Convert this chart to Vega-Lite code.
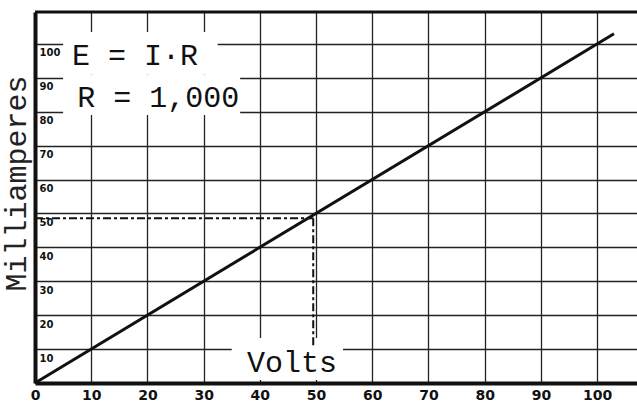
{
  "$schema": "https://vega.github.io/schema/vega-lite/v6.json",
  "width": 602,
  "height": 371,
  "autosize": "none",
  "padding": {"left": 35, "top": 12, "right": 0, "bottom": 20},
  "background": "white",
  "config": {"view": {"stroke": null}},
  "datasets": {
    "ohm": [
      {"volts": 0, "milliamperes": 0},
      {"volts": 103, "milliamperes": 103}
    ],
    "guide": [
      {"seg": "h", "volts": 0, "milliamperes": 48.6},
      {"seg": "h", "volts": 49.5, "milliamperes": 48.6},
      {"seg": "v", "volts": 49.5, "milliamperes": 48.6},
      {"seg": "v", "volts": 49.5, "milliamperes": 10.5}
    ],
    "notes": [
      {"note": "E = I·R", "volts": 6.6, "milliamperes": 93.8},
      {"note": "R = 1,000", "volts": 7.5, "milliamperes": 81.4},
      {"note": "Volts", "volts": 37.7, "milliamperes": 3.2}
    ],
    "boxes": [
      {"x1": 5, "x2": 32.5, "y1": 91, "y2": 103.5},
      {"x1": 5, "x2": 36.5, "y1": 79, "y2": 91},
      {"x1": 35, "x2": 54.8, "y1": 0.9, "y2": 13.3}
    ],
    "frame": [{"milliamperes": 109.4}]
  },
  "layer": [
    {
      "data": {"name": "boxes"},
      "mark": {"type": "rect", "fill": "white"},
      "encoding": {
        "x": {
          "field": "x1", "type": "quantitative",
          "scale": {"domain": [0, 107.1], "nice": false},
          "axis": {
            "values": [0, 10, 20, 30, 40, 50, 60, 70, 80, 90, 100],
            "grid": true, "gridColor": "#222", "gridWidth": 1.3,
            "domain": true, "domainColor": "#111", "domainWidth": 4,
            "ticks": false, "tickSize": 0,
            "labelPadding": 5, "labelFlush": false, "labelAngle": 0,
            "labelFont": "DejaVu Sans", "labelFontWeight": "bold", "labelFontSize": 14, "labelColor": "#111",
            "title": null
          }
        },
        "x2": {"field": "x2"},
        "y": {
          "field": "y1", "type": "quantitative",
          "scale": {"domain": [0, 109.4], "nice": false},
          "axis": {
            "values": [10, 20, 30, 40, 50, 60, 70, 80, 90, 100],
            "grid": true, "gridColor": "#222", "gridWidth": 1.3,
            "domain": true, "domainColor": "#111", "domainWidth": 4,
            "ticks": false, "tickSize": 0,
            "labelAlign": "left", "labelBaseline": "top", "labelPadding": -4, "labelOffset": 4,
            "labelFont": "DejaVu Sans", "labelFontWeight": "bold", "labelFontSize": 10, "labelColor": "#111",
            "title": "Milliamperes",
            "titleFont": "Liberation Mono", "titleFontSize": 30, "titleFontWeight": "normal", "titleColor": "#222",
            "titleX": -19, "titleY": 171, "titleAngle": 270, "titleAlign": "center", "titleBaseline": "middle"
          }
        },
        "y2": {"field": "y2"}
      }
    },
    {
      "data": {"name": "guide"},
      "mark": {"type": "line", "color": "#111", "strokeWidth": 2, "strokeDash": [8, 3, 3, 3]},
      "encoding": {
        "x": {"field": "volts", "type": "quantitative"},
        "y": {"field": "milliamperes", "type": "quantitative"},
        "detail": {"field": "seg"}
      }
    },
    {
      "data": {"name": "ohm"},
      "mark": {"type": "line", "color": "#111", "strokeWidth": 3},
      "encoding": {
        "x": {"field": "volts", "type": "quantitative"},
        "y": {"field": "milliamperes", "type": "quantitative"}
      }
    },
    {
      "data": {"name": "frame"},
      "mark": {"type": "rule", "color": "#111", "strokeWidth": 3},
      "encoding": {"y": {"field": "milliamperes", "type": "quantitative"}}
    },
    {
      "data": {"name": "notes"},
      "mark": {"type": "text", "font": "Liberation Mono", "fontSize": 30, "align": "left", "baseline": "alphabetic", "color": "#111"},
      "encoding": {
        "x": {"field": "volts", "type": "quantitative"},
        "y": {"field": "milliamperes", "type": "quantitative"},
        "text": {"field": "note"}
      }
    }
  ]
}
